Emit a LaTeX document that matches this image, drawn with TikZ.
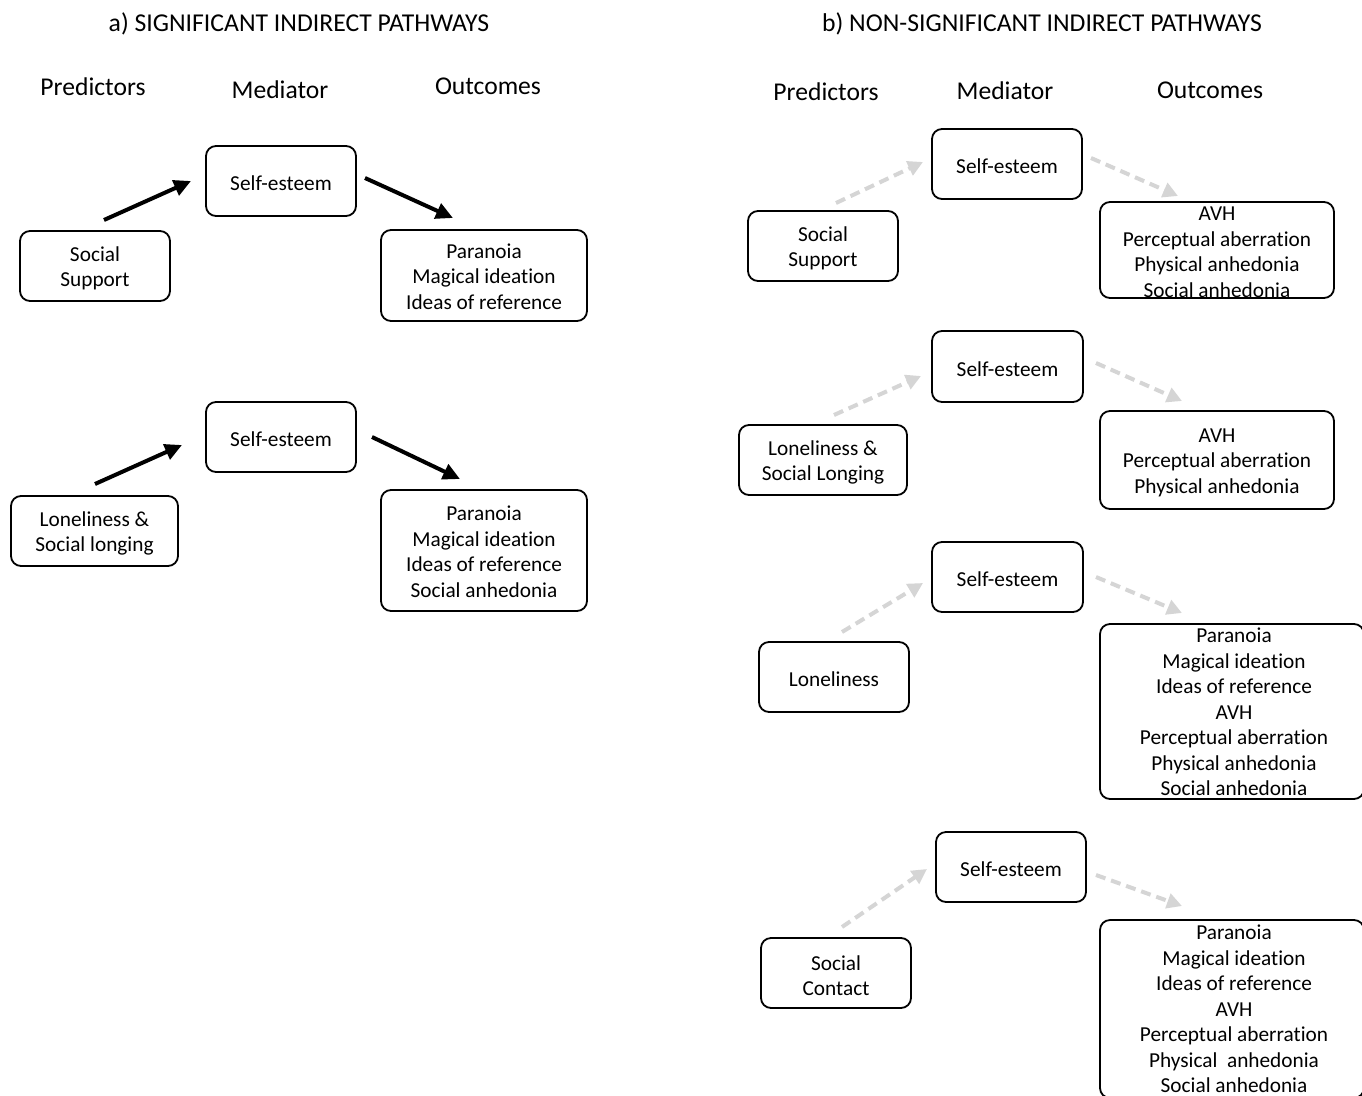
\documentclass[tikz,border=0pt]{standalone}
\usepackage{fontspec}
\setmainfont{Carlito}[Ligatures={NoCommon}]
\usetikzlibrary{arrows.meta}
\definecolor{dashgrey}{HTML}{D5D5D5}
\begin{document}
\begin{tikzpicture}[x=1pt,y=-1pt,
  frame/.style={draw=black,line width=1.8pt,rounded corners=10pt,inner sep=0pt},
  txt/.style={align=center,inner sep=0pt,font=\fontsize{21.3}{25.5}\selectfont,yshift=-2.5pt},
  hdr/.style={font=\fontsize{25.6}{30}\selectfont,inner sep=0pt},
  ttl/.style={font=\fontsize{25.7}{30}\selectfont,inner sep=0pt},
  sig/.style={draw=black,line width=4pt,-{Triangle[length=17pt,width=16pt]}},
  nsig/.style={draw=dashgrey,line width=4pt,dash pattern=on 10pt off 6pt,-{Triangle[length=15pt,width=15pt]}}]
\useasboundingbox (0,0) rectangle (1362,1095);
\clip (0,0) rectangle (1362,1095);
\fill[white] (0,0) rectangle (1362,1095);

% titles
\node[ttl] (ta) at (299,23.5) {a) SIGNIFICANT INDIRECT PATHWAYS};
\node[ttl] (tb) at (1042,23.5) {b) NON-SIGNIFICANT INDIRECT PATHWAYS};

% headers
\node[hdr] (hap) at (93,86.5) {Predictors};
\node[hdr] (ham) at (280,89.5) {Mediator};
\node[hdr] (hao) at (488,86.5) {Outcomes};
\node[hdr] (hbp) at (826,91.5) {Predictors};
\node[hdr] (hbm) at (1005,90.5) {Mediator};
\node[hdr] (hbo) at (1210,90.5) {Outcomes};

% ---- panel a ----
\node[frame,minimum width=150,minimum height=70] (am1) at (281,181) {};
\node[txt] (am1t) at (am1.center) {Self-esteem};
\node[frame,minimum width=150,minimum height=70] (ap1) at (95,266) {};
\node[txt] (ap1t) at (ap1.center) {Social\\Support};
\node[frame,minimum width=206,minimum height=91] (ao1) at (484,275.5) {};
\node[txt] (ao1t) at (484,274) {Paranoia\\Magical ideation\\Ideas of reference};

\node[frame,minimum width=150,minimum height=70] (am2) at (281,437) {};
\node[txt] (am2t) at (am2.center) {Self-esteem};
\node[frame,minimum width=167,minimum height=70] (ap2) at (94.5,531) {};
\node[txt] (ap2t) at (ap2.center) {Loneliness \&\\Social longing};
\node[frame,minimum width=206,minimum height=121] (ao2) at (484,550.5) {};
\node[txt] (ao2t) at (484,549) {Paranoia\\Magical ideation\\Ideas of reference\\Social anhedonia};

\coordinate (a1s) at (104,220); \coordinate (a1e) at (191,181);
\coordinate (a2s) at (365,178); \coordinate (a2e) at (453,218);
\coordinate (a3s) at (95,484);  \coordinate (a3e) at (182,445);
\coordinate (a4s) at (372,437); \coordinate (a4e) at (460,479);
\draw[sig] (a1s) -- (a1e);
\draw[sig] (a2s) -- (a2e);
\draw[sig] (a3s) -- (a3e);
\draw[sig] (a4s) -- (a4e);

% ---- panel b ----
\node[frame,minimum width=150,minimum height=70] (bm1) at (1007,164) {};
\node[txt] (bm1t) at (bm1.center) {Self-esteem};
\node[frame,minimum width=150,minimum height=70] (bp1) at (823,246) {};
\node[txt] (bp1t) at (bp1.center) {Social\\Support};
\node[frame,minimum width=234,minimum height=96] (bo1) at (1217,250) {};
\node[txt] (bo1t) at (1217,249.5) {AVH\\Perceptual aberration\\Physical anhedonia\\Social anhedonia};

\node[frame,minimum width=151,minimum height=71] (bm2) at (1007.5,366.5) {};
\node[txt] (bm2t) at (bm2.center) {Self-esteem};
\node[frame,minimum width=168,minimum height=70] (bp2) at (823,460) {};
\node[txt] (bp2t) at (bp2.center) {Loneliness \&\\Social Longing};
\node[frame,minimum width=234,minimum height=98] (bo2) at (1217,460) {};
\node[txt] (bo2t) at (bo2.center) {AVH\\Perceptual aberration\\Physical anhedonia};

\node[frame,minimum width=151,minimum height=70] (bm3) at (1007.5,577) {};
\node[txt] (bm3t) at (bm3.center) {Self-esteem};
\node[frame,minimum width=150,minimum height=70] (bp3) at (834,677) {};
\node[txt] (bp3t) at (bp3.center) {Loneliness};
\node[frame,minimum width=264,minimum height=175] (bo3) at (1232,711.5) {};
\node[txt] (bo3t) at (1234,709.5) {Paranoia\\Magical ideation\\Ideas of reference\\AVH\\Perceptual aberration\\Physical anhedonia\\Social anhedonia};

\node[frame,minimum width=150,minimum height=70] (bm4) at (1011,867) {};
\node[txt] (bm4t) at (bm4.center) {Self-esteem};
\node[frame,minimum width=150,minimum height=70] (bp4) at (836,973) {};
\node[txt] (bp4t) at (bp4.center) {Social\\Contact};
\node[frame,minimum width=264,minimum height=178] (bo4) at (1232,1009) {};
\node[txt] (bo4t) at (1234,1006.5) {Paranoia\\Magical ideation\\Ideas of reference\\AVH\\Perceptual aberration\\Physical~~anhedonia\\Social anhedonia};

\coordinate (b1s) at (836,203);  \coordinate (b1e) at (923,162);
\coordinate (b2s) at (1091,158); \coordinate (b2e) at (1178,196);
\coordinate (b3s) at (834,415);  \coordinate (b3e) at (921,376);
\coordinate (b4s) at (1096,363); \coordinate (b4e) at (1182,401);
\coordinate (b5s) at (842,632);  \coordinate (b5e) at (923,583);
\coordinate (b6s) at (1096,577); \coordinate (b6e) at (1182,613);
\coordinate (b7s) at (842,927);  \coordinate (b7e) at (927,869);
\coordinate (b8s) at (1096,875); \coordinate (b8e) at (1182,906);
\foreach \i in {1,...,8} {\draw[nsig] (b\i s) -- (b\i e);}
\end{tikzpicture}
\end{document}
